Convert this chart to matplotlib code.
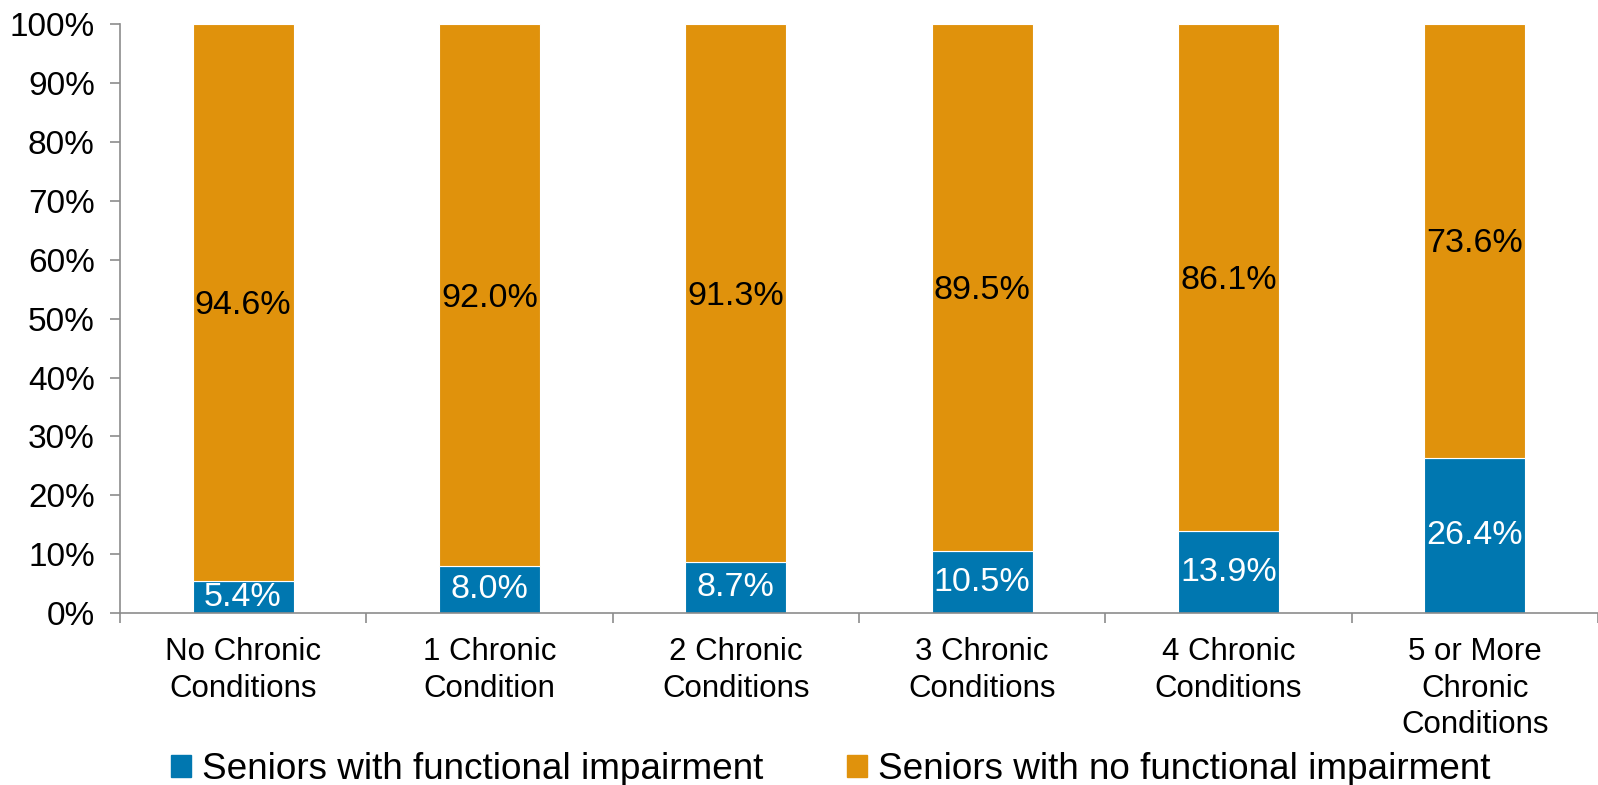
import matplotlib.pyplot as plt
from matplotlib.patches import Patch
import numpy as np

plt.rcParams['font.family'] = ['Liberation Sans', 'DejaVu Sans']

categories = ['No Chronic\nConditions', '1 Chronic\nCondition', '2 Chronic\nConditions',
              '3 Chronic\nConditions', '4 Chronic\nConditions', '5 or More\nChronic\nConditions']
impaired = [5.4, 8.0, 8.7, 10.5, 13.9, 26.4]
not_impaired = [94.6, 92.0, 91.3, 89.5, 86.1, 73.6]
series_names = ['Seniors with functional impairment', 'Seniors with no functional impairment']

blue = '#0077B0'
orange = '#E0920C'
axis_gray = '#8C8C8C'

fig = plt.figure(figsize=(15.98, 7.85), dpi=100)
ax = fig.add_axes([0.075, 0.219, 0.925, 0.75])

x = np.arange(len(categories))
w = 0.41
ax.bar(x, impaired, w, color=blue, edgecolor='white', linewidth=0.8)
ax.bar(x, not_impaired, w, bottom=impaired, color=orange, edgecolor='white', linewidth=0.8)

for xi, v in zip(x, impaired):
    ax.text(xi, v / 2, f'{v:.1f}%', ha='center', va='center', color='white', fontsize=24.5)
for xi, v, b in zip(x, not_impaired, impaired):
    ax.text(xi, b + v / 2 - 0.5, f'{v:.1f}%', ha='center', va='center', color='black', fontsize=24.5)

ax.set_xlim(-0.5, len(categories) - 0.5)
ax.set_ylim(0, 100)
ax.set_yticks(np.arange(0, 101, 10))
ax.set_yticklabels([f'{t}%' for t in range(0, 101, 10)], fontsize=24)
ax.set_xticks(x)
ax.set_xticklabels(categories, fontsize=22.5, linespacing=1.3)
ax.set_xticks(np.arange(-0.5, len(categories), 1), minor=True)
ax.tick_params(axis='x', which='major', length=0, pad=17)
ax.tick_params(axis='x', which='minor', length=7, color=axis_gray, width=1.2)
ax.tick_params(axis='y', length=7, color=axis_gray, width=1.2, pad=11)

for s in ['top', 'right']:
    ax.spines[s].set_visible(False)
for s in ['left', 'bottom']:
    ax.spines[s].set_color(axis_gray)
    ax.spines[s].set_linewidth(1.2)

handles = [Patch(color=blue), Patch(color=orange)]
fig.legend(handles, series_names, loc='center', bbox_to_anchor=(0.52, 0.02), ncol=2,
           frameon=False, fontsize=26.6, handlelength=0.55, handleheight=0.55,
           handletextpad=0.3, columnspacing=2.25, borderpad=0.1)

fig.savefig('out.png', dpi=100)
